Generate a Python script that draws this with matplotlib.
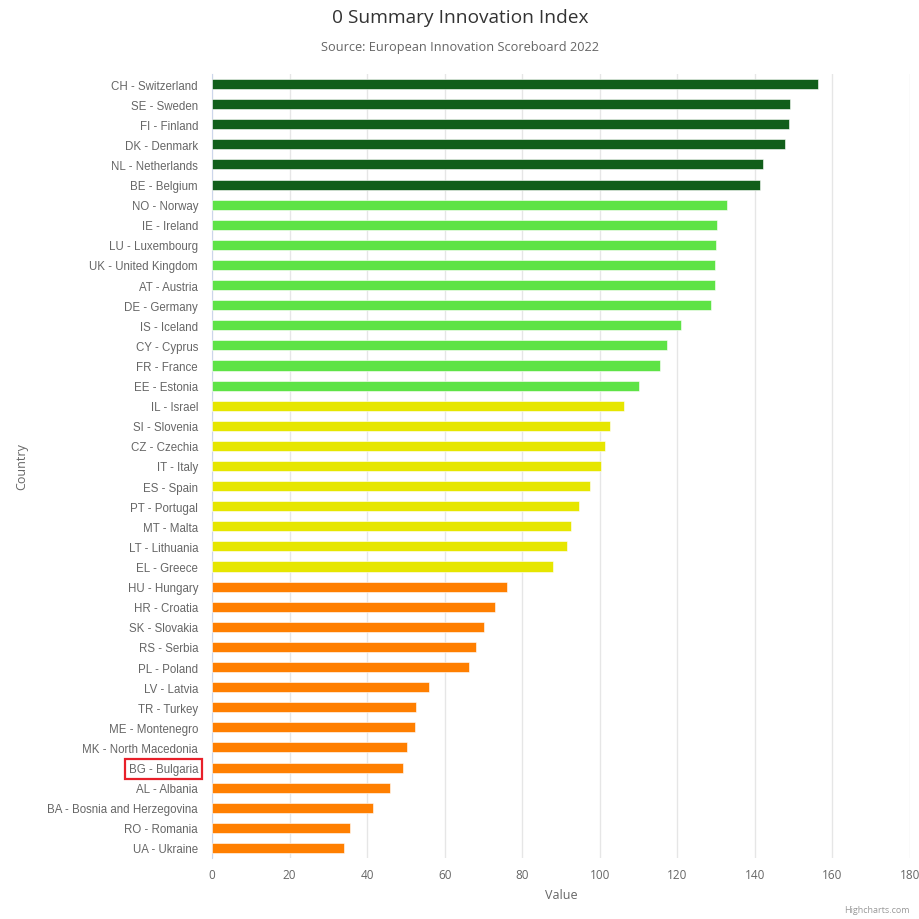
import numpy as np
import matplotlib
matplotlib.use('Agg')
from matplotlib import pyplot as plt

countries = ['CH - Switzerland', 'SE - Sweden', 'FI - Finland', 'DK - Denmark',
             'NL - Netherlands', 'BE - Belgium', 'NO - Norway', 'IE - Ireland',
             'LU - Luxembourg', 'UK - United Kingdom', 'AT - Austria', 'DE - Germany',
             'IS - Iceland', 'CY - Cyprus', 'FR - France', 'EE - Estonia',
             'IL - Israel', 'SI - Slovenia', 'CZ - Czechia', 'IT - Italy',
             'ES - Spain', 'PT - Portugal', 'MT - Malta', 'LT - Lithuania',
             'EL - Greece', 'HU - Hungary', 'HR - Croatia', 'SK - Slovakia',
             'RS - Serbia', 'PL - Poland', 'LV - Latvia', 'TR - Turkey',
             'ME - Montenegro', 'MK - North Macedonia', 'BG - Bulgaria', 'AL - Albania',
             'BA - Bosnia and Herzegovina', 'RO - Romania', 'UA - Ukraine']
values = [156.2, 149.0, 148.8, 147.8, 142.0, 141.4, 132.7, 130.3,
          130.0, 129.8, 129.8, 128.8, 120.9, 117.4, 115.6, 110.0,
          106.3, 102.6, 101.3, 100.3, 97.4, 94.6, 92.6, 91.5,
          87.9, 76.2, 72.9, 70.2, 68.2, 66.3, 56.0, 52.6,
          52.3, 50.2, 49.3, 46.0, 41.5, 35.5, 34.1]
# performance group of each country
groups = ['leader'] * 6 + ['strong'] * 10 + ['moderate'] * 9 + ['emerging'] * 14
highlight = 'BG - Bulgaria'

group_colors = {'leader': '#115e1a', 'strong': '#5ee346',
                'moderate': '#e6e600', 'emerging': '#ff7f00'}

plt.rcParams['font.family'] = ['Liberation Sans', 'DejaVu Sans']

fig = plt.figure(figsize=(9.2, 9.2), dpi=100)
ax = fig.add_axes([212/920, 1 - 859/920, 698/920, 784/920])

y = np.arange(len(countries))
ax.barh(y, values, height=0.5, color=[group_colors[g] for g in groups],
        edgecolor='white', linewidth=0.4, zorder=3)

ax.set_xlim(0, 180)
ax.set_ylim(len(countries) - 0.5, -0.5)
ax.set_xticks(np.arange(0, 181, 20))
ax.set_yticks(y)
ax.set_yticklabels(countries)
ax.grid(axis='x', color='#e6e6e6', linewidth=1, zorder=0)
ax.tick_params(axis='y', length=0, pad=10, labelsize=8.3, labelcolor='#666666')
ax.tick_params(axis='x', length=0, pad=7, labelsize=8.5, labelcolor='#666666')
for lab in ax.get_xticklabels():
    lab.set_family(['Open Sans', 'DejaVu Sans'])
for side in ['top', 'right', 'bottom']:
    ax.spines[side].set_visible(False)
ax.spines['left'].set_color('#ccd6eb')

for lab in ax.get_yticklabels():
    if lab.get_text() == highlight:
        lab.set_bbox(dict(facecolor='none', edgecolor='#e8202a', linewidth=1.6,
                          boxstyle='square,pad=0.35'))

ax.set_xlabel('Value', fontsize=9, color='#666666', family=['Open Sans', 'DejaVu Sans'],
              labelpad=5)
ax.set_ylabel('Country', fontsize=9, color='#666666', family=['Open Sans', 'DejaVu Sans'],
              labelpad=0)
ax.yaxis.set_label_coords(-184/698, 0.5)

fig.text(0.5, 1 - 18/920, '0 Summary Innovation Index', ha='center', va='center',
         fontsize=13.8, color='#333333', family=['Open Sans', 'DejaVu Sans'])
fig.text(0.5, 1 - 48/920, 'Source: European Innovation Scoreboard 2022', ha='center',
         va='center', fontsize=9.2, color='#666666', family=['Open Sans', 'DejaVu Sans'])
fig.text(910/920, 1 - 911/920, 'Highcharts.com', ha='right', va='center',
         fontsize=6.5, color='#999999', family=['Open Sans', 'DejaVu Sans'])

fig.savefig('out.png', dpi=100, facecolor='white')
